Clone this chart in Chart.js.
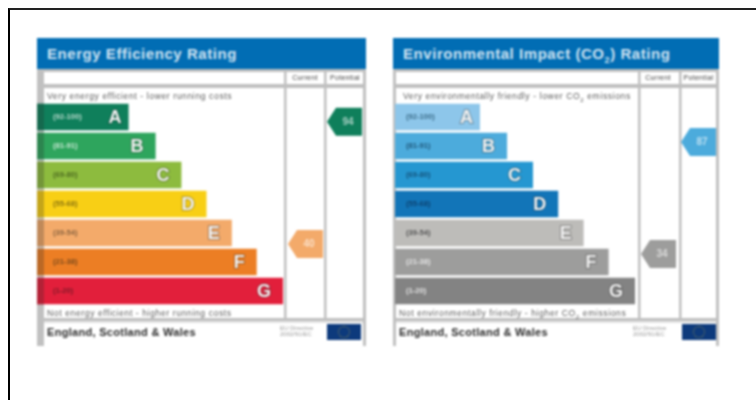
<!DOCTYPE html>
<html>
<head>
<meta charset="utf-8">
<script src="https://cdn.jsdelivr.net/npm/chart.js@4"></script>
<style>
  html, body { margin: 0; padding: 0; background: #fff; }
  body { width: 756px; height: 400px; overflow: hidden; position: relative; font-family: "Liberation Sans", sans-serif; }
  #frame { position: absolute; left: 8px; top: 8px; width: 760px; height: 400px; border-left: 2px solid #000; border-top: 2px solid #222; }
  .panel { position: absolute; top: 38px; height: 308px; filter: blur(0.8px); }
  .panel canvas { position: absolute; left: 0; top: 0; }
  .panel div { position: absolute; white-space: nowrap; }
  .head { left: 0; top: 0; right: 0; height: 31px; background: #016db4; color: #cfe3f2; font-weight: bold; font-size: 15px; line-height: 32px; padding-left: 10px; letter-spacing: 0.55px; }
  .col { top: 34px; font-size: 7px; color: #444; line-height: 12px; text-align: center; letter-spacing: 0.3px; }
  .note { font-size: 8.6px; color: #5c5c5c; line-height: 10px; letter-spacing: 0.6px; }
  .foot { font-weight: bold; font-size: 11px; color: #2a2a2a; line-height: 12px; top: 288px; letter-spacing: 0.3px; }
  .small { font-size: 6px; line-height: 6px; color: #999; top: 287px; white-space: normal !important; }
  .flag { top: 286px; height: 16px; background: #0d3a7c; }
  .flag span { position: absolute; left: 11px; top: 2px; width: 10px; height: 10px; border: 1px dotted #8a8a55; border-radius: 50%; }
</style>
</head>
<body>
<div id="frame"></div>

<div class="panel" id="energy" style="left:37px;width:329px">
  <canvas id="energyChart"></canvas>
  <div class="head">Energy Efficiency Rating</div>
  <div class="col" style="left:250px;width:36px">Current</div>
  <div class="col" style="left:289px;width:38px">Potential</div>
  <div class="note" style="left:10px;top:53px">Very energy efficient - lower running costs</div>
  <div class="note" style="left:10px;top:270px">Not energy efficient - higher running costs</div>
  <div class="foot" style="left:10px">England, Scotland &amp; Wales</div>
  <div class="small" style="left:243px;width:46px">EU Directive 2002/91/EC</div>
  <div class="flag" style="left:290px;width:34px"><span></span></div>
</div>

<div class="panel" id="co2" style="left:393px;width:326px">
  <canvas id="co2Chart"></canvas>
  <div class="head">Environmental Impact (CO<sub style="font-size:9px;line-height:0">2</sub>) Rating</div>
  <div class="col" style="left:247px;width:36px">Current</div>
  <div class="col" style="left:287px;width:37px">Potential</div>
  <div class="note" style="left:10px;top:53px">Very environmentally friendly - lower CO<sub style="font-size:6px;line-height:0">2</sub> emissions</div>
  <div class="note" style="left:6px;top:270px">Not environmentally friendly - higher CO<sub style="font-size:6px;line-height:0">2</sub> emissions</div>
  <div class="foot" style="left:6px">England, Scotland &amp; Wales</div>
  <div class="small" style="left:240px;width:46px">EU Directive 2002/91/EC</div>
  <div class="flag" style="left:289px;width:34px"><span></span></div>
</div>

<script>
// shared bands
const letters = ['A', 'B', 'C', 'D', 'E', 'F', 'G'];
const ranges = ['(92-100)', '(81-91)', '(69-80)', '(55-68)', '(39-54)', '(21-38)', '(1-20)'];
const bandTop = [100, 91, 80, 68, 54, 38, 20];
const bandBottom = [92, 81, 69, 55, 39, 21, 1];
// bar lengths, G = 100
const barLengths = [35.4, 46.7, 57.5, 68, 78.6, 89, 100];

const energyColours = ['#0f7f5b', '#2ea55d', '#8dbb3e', '#f8cf15', '#f3aa6a', '#ec7e24', '#e21f3b'];
const co2Colours = ['#8dc6ea', '#4cabdc', '#2597d1', '#1275b8', '#bdbcb9', '#9d9d9c', '#838383'];
const energyRangeText = ['#b9d9cc', '#c8e8d4', '#4d6b20', '#8a7410', '#8a6440', '#7a4a1c', '#7c1a28'];
const co2RangeText = ['#3d6f8c', '#20597c', '#15537c', '#0d4270', '#555555', '#e4e4e4', '#e4e4e4'];

const energyScores = [40, 94];
const co2Scores = [34, 87];

function rowForScore(score) {
  const i = bandTop.findIndex((t, k) => score >= bandBottom[k] && score <= t);
  return i + (bandTop[i] - score) / (bandTop[i] - bandBottom[i] + 1) - 0.5;
}

function scoreColour(score, colours) {
  return colours[Math.round(rowForScore(score))];
}

const panelPlugin = {
  id: 'panel',
  beforeDatasetsDraw(chart, args, o) {
    const ctx = chart.ctx;
    ctx.save();
    ctx.fillStyle = '#c0c0c0';
    // frame and column rules
    ctx.fillRect(0, 31, chart.width, 3);
    ctx.fillRect(0, 46, chart.width, 4);
    ctx.fillRect(0, 280, chart.width, 3);
    ctx.fillStyle = '#e4e4e4';
    ctx.fillRect(0, 283, chart.width, 2);
    ctx.fillStyle = '#c0c0c0';
    ctx.fillRect(0, 31, o.edge, 277);
    ctx.fillRect(chart.width - 3, 31, 3, 277);
    o.rules.forEach((x) => ctx.fillRect(x, 31, 2.5, 252));
    ctx.restore();
  },
  afterDatasetsDraw(chart, args, o) {
    const ctx = chart.ctx;
    const xs = chart.scales.x;
    const ys = chart.scales.y;
    const meta = chart.getDatasetMeta(0);
    ctx.save();
    ctx.textBaseline = 'middle';
    letters.forEach((letter, i) => {
      const y = ys.getPixelForValue(i);
      const right = xs.getPixelForValue(barLengths[i]);
      const h = meta.data[i].height;
      // darker strip where the bar crosses the panel's left edge
      if (o.edge > 3) {
        ctx.fillStyle = o.colours[i];
        ctx.fillRect(0, y - h / 2, o.edge, h);
        ctx.fillStyle = 'rgba(40,40,40,0.25)';
        ctx.fillRect(0, y - h / 2, o.edge, h);
      }
      ctx.fillStyle = o.rangeText[i];
      ctx.font = 'bold 7.6px "Liberation Sans"';
      ctx.textAlign = 'left';
      ctx.fillText(ranges[i], o.rangeX, y);
      // letters sit further in on every bar but A
      const inset = i === 0 ? 7 : 12;
      ctx.font = 'bold 18px "Liberation Sans"';
      ctx.textAlign = 'right';
      ctx.strokeStyle = 'rgba(40,40,40,0.35)';
      ctx.lineWidth = 2;
      ctx.strokeText(letter, right - inset, y + 1);
      ctx.fillStyle = '#f2f2f2';
      ctx.fillText(letter, right - inset, y + 1);
    });
    // current / potential arrows
    o.scores.forEach((score, k) => {
      const y = ys.getPixelForValue(rowForScore(score));
      const right = o.arrowRight[k];
      const left = right - 35;
      ctx.fillStyle = scoreColour(score, o.colours);
      ctx.beginPath();
      ctx.moveTo(left, y);
      ctx.lineTo(left + 9, y - 14);
      ctx.lineTo(right, y - 14);
      ctx.lineTo(right, y + 14);
      ctx.lineTo(left + 9, y + 14);
      ctx.closePath();
      ctx.fill();
      ctx.fillStyle = 'rgba(255,255,255,0.62)';
      ctx.font = 'bold 10px "Liberation Sans"';
      ctx.textAlign = 'center';
      ctx.fillText(String(score), right - 14, y);
    });
    ctx.restore();
  }
};

function makeChart(id, width, colours, rangeText, scores, opts) {
  const canvas = document.getElementById(id);
  return new Chart(canvas.getContext('2d'), {
    type: 'bar',
    plugins: [panelPlugin],
    data: {
      labels: letters,
      datasets: [{
        data: barLengths,
        backgroundColor: colours,
        categoryPercentage: 1,
        barPercentage: 0.92
      }]
    },
    options: {
      indexAxis: 'y',
      responsive: false,
      animation: false,
      maintainAspectRatio: false,
      layout: { padding: { left: opts.plotLeft, right: width - opts.plotRight, top: 64.5, bottom: 40.5 } },
      scales: {
        x: { display: false, min: 0, max: 100 },
        y: { display: false }
      },
      plugins: {
        legend: { display: false },
        title: { display: false },
        tooltip: { enabled: false },
        panel: {
          edge: opts.edge,
          rules: opts.rules,
          rangeX: opts.rangeX,
          rangeText: rangeText,
          colours: colours,
          scores: scores,
          arrowRight: opts.arrowRight
        }
      }
    }
  });
}

function setup(id, w) {
  const c = document.getElementById(id);
  c.width = w; c.height = 308;
  c.style.width = w + 'px'; c.style.height = '308px';
}

setup('energyChart', 329);
setup('co2Chart', 326);

makeChart('energyChart', 329, energyColours, energyRangeText, energyScores, {
  plotLeft: 7, plotRight: 246, edge: 7, rules: [247, 287],
  rangeX: 16, arrowRight: [286, 325]
});
makeChart('co2Chart', 326, co2Colours, co2RangeText, co2Scores, {
  plotLeft: 2, plotRight: 242, edge: 3, rules: [245, 286],
  rangeX: 13, arrowRight: [283, 323]
});
</script>
</body>
</html>
